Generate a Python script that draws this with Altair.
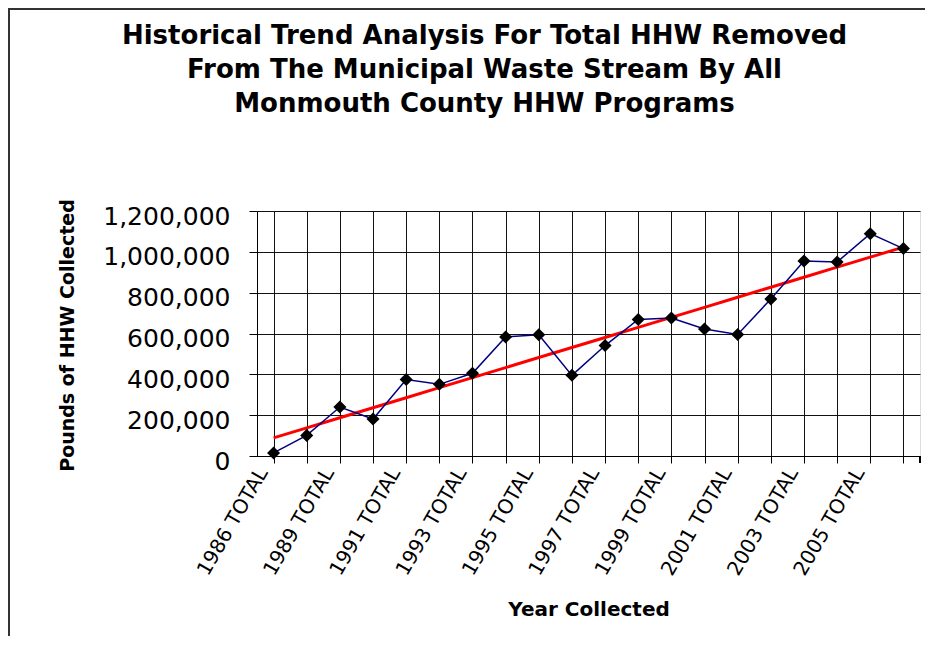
import altair as alt
import numpy as np
import pandas as pd

years = ["1986", "1988", "1989", "1990", "1991", "1992", "1993", "1994", "1995", "1996",
         "1997", "1998", "1999", "2000", "2001", "2002", "2003", "2004", "2005", "2006"]
categories = [y + " TOTAL" for y in years]
pounds = [15000, 101000, 240000, 181000, 375000, 351000, 405000, 583000, 594000, 395000,
          541000, 669000, 676000, 622000, 595000, 769000, 955000, 950000, 1089000, 1016000]
labelled = [c for i, c in enumerate(categories) if i % 2 == 0]
y_ticks = [0, 200000, 400000, 600000, 800000, 1000000, 1200000]

idx = np.arange(len(pounds))
slope, intercept = np.polyfit(idx, pounds, 1)
trend = (slope * idx + intercept).tolist()

df = pd.DataFrame({"cat": categories, "pounds": pounds, "trend": trend})

FONT = "DejaVu Sans"
W, H = 663, 245
label_list = "[" + ",".join("'" + c + "'" for c in labelled) + "]"

x_enc = alt.X(
    "cat:N", sort=None,
    scale=alt.Scale(paddingInner=0, paddingOuter=0),
    axis=alt.Axis(
        title="Year Collected", titleFont=FONT, titleFontSize=20, titleFontWeight="bold",
        titleColor="black", titleX=W / 2, titleY=159, titleAlign="center",
        titleBaseline="alphabetic",
        labelFont=FONT, labelFontSize=20, labelColor="black", labelAngle=-60,
        labelAlign="right", labelBaseline="middle", labelPadding=6, labelOffset=-11,
        labelOverlap=False, labelBound=False,
        labelExpr="indexof(" + label_list + ", datum.value) >= 0 ? datum.label : ''",
        bandPosition=0, tickSize=7, tickColor="black", domainColor="black",
        grid=True, gridColor="#111", gridWidth=1,
    ),
)
y_axis = alt.Axis(
    title="Pounds of HHW Collected", titleFont=FONT, titleFontSize=19, titleFontWeight="bold",
    titleColor="black", titleAngle=-90, titleX=-190, titleY=124, titleAlign="center",
    titleBaseline="middle",
    labelFont=FONT, labelFontSize=25, labelColor="black", labelPadding=19, labelOffset=5,
    values=y_ticks, format=",d", tickSize=8, tickColor="black", domainColor="black",
    grid=True, gridColor="#111", gridWidth=1,
)
y_scale = alt.Scale(domain=[0, 1200000], nice=False)

base = alt.Chart(df)
trend_line = base.mark_line(color="#ff0000", strokeWidth=3).encode(
    x=x_enc, y=alt.Y("trend:Q", scale=y_scale, axis=y_axis))
data_line = base.mark_line(color="#000080", strokeWidth=1.5).encode(
    x=x_enc, y=alt.Y("pounds:Q", scale=y_scale, axis=y_axis))
points = base.mark_point(shape="diamond", filled=True, color="black", size=170, opacity=1).encode(
    x=x_enc, y=alt.Y("pounds:Q", scale=y_scale, axis=y_axis))
end_tick = base.mark_rule(color="black", strokeWidth=1).encode(
    x=alt.value(W), y=alt.value(H), y2=alt.value(H + 7))

frame_top = alt.Chart(df).mark_rule(color="#333", strokeWidth=2).encode(
    x=alt.value(-260), x2=alt.value(W + 60), y=alt.value(-202))
frame_left = alt.Chart(df).mark_rule(color="#333", strokeWidth=2).encode(
    x=alt.value(-248), y=alt.value(-202), y2=alt.value(H + 200))

chart = alt.layer(frame_top, frame_left, trend_line, data_line, points, end_tick).properties(
    width=W, height=H,
    title=alt.TitleParams(
        text=["Historical Trend Analysis For Total HHW Removed",
              "From The Municipal Waste Stream By All",
              "Monmouth County HHW Programs"],
        font=FONT, fontSize=26, fontWeight="bold", color="black",
        anchor="middle", frame="group", dx=-104, offset=0, dy=135, lineHeight=34,
        baseline="bottom",
    ),
    autosize=alt.AutoSizeParams(type="none"),
    padding={"left": 249, "top": 203, "right": 5, "bottom": 180},
).configure_view(stroke="black", strokeWidth=1).configure(background="white")

chart.save("out.html", embed_options={"renderer": "svg", "actions": False})
